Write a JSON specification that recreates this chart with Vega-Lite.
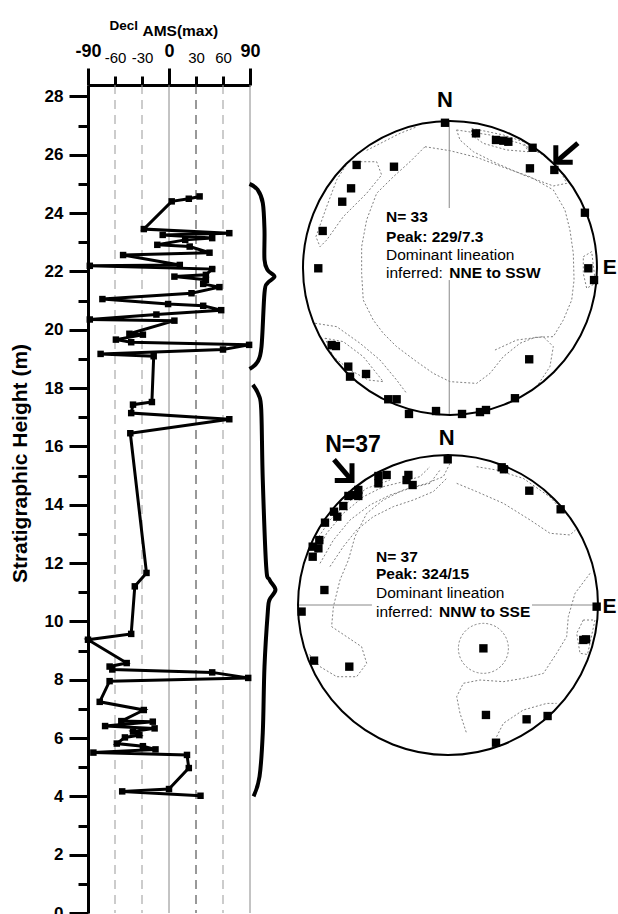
{
"$schema": "https://vega.github.io/schema/vega-lite/v6.json",
"width": 162, "height": 828,
"autosize": {"type": "none"},
"padding": {"left": 88, "top": 85, "right": 368, "bottom": 1},
"config": {"font": "Liberation Sans", "view": {"stroke": null}, "axis": {"labelColor": "black", "tickColor": "black", "domainColor": "black", "titleColor": "black", "grid": false}},
"datasets": {
"prof": [
{"h":24.57,"d":34},{"h":24.49,"d":22},{"h":24.40,"d":3},{"h":23.45,"d":-28},{"h":23.31,"d":67},{"h":23.25,"d":-7},{"h":23.14,"d":48},{"h":23.08,"d":18},{"h":22.91,"d":-13},{"h":22.85,"d":23},{"h":22.64,"d":45},{"h":22.56,"d":-51},{"h":22.22,"d":12},{"h":22.19,"d":-88},{"h":22.08,"d":48},{"h":21.88,"d":41},{"h":21.82,"d":6},{"h":21.71,"d":41},{"h":21.57,"d":38},{"h":21.46,"d":56},{"h":21.25,"d":25},{"h":21.05,"d":-74},{"h":20.88,"d":-1},{"h":20.82,"d":38},{"h":20.67,"d":58},{"h":20.52,"d":-14},{"h":20.35,"d":-88},{"h":20.31,"d":6},{"h":19.86,"d":-44},{"h":19.83,"d":-29},{"h":19.66,"d":-59},{"h":19.57,"d":-42},{"h":19.48,"d":89},{"h":19.32,"d":60},{"h":19.17,"d":-76},{"h":19.09,"d":-17},
{"h":17.52,"d":-19},{"h":17.43,"d":-40},{"h":17.14,"d":-42},{"h":16.93,"d":67},{"h":16.45,"d":-43},{"h":11.66,"d":-25},{"h":11.2,"d":-38},{"h":9.57,"d":-42},{"h":9.37,"d":-90},{"h":8.57,"d":-47},{"h":8.45,"d":-66},{"h":8.35,"d":-63},{"h":8.25,"d":48},{"h":8.06,"d":88},{"h":7.95,"d":-66},{"h":7.24,"d":-77},{"h":6.96,"d":-28},{"h":6.58,"d":-53},{"h":6.56,"d":-18},{"h":6.41,"d":-71},{"h":6.33,"d":-16},{"h":6.22,"d":-40},{"h":6.10,"d":-33},{"h":6.02,"d":-49},{"h":5.81,"d":-58},{"h":5.72,"d":-29},{"h":5.61,"d":-15},{"h":5.50,"d":-84},{"h":5.42,"d":20},{"h":4.97,"d":22},{"h":4.25,"d":0},{"h":4.17,"d":-52},{"h":4.02,"d":35}
],
"braces": [
{"b":1,"d":89.5,"h":25.0},{"b":1,"d":98.4,"h":24.8},{"b":1,"d":104.2,"h":24.35},{"b":1,"d":106.1,"h":23.42},{"b":1,"d":106.1,"h":22.4},{"b":1,"d":109.5,"h":22.05},{"b":1,"d":117.2,"h":21.82},{"b":1,"d":109.5,"h":21.6},{"b":1,"d":106.1,"h":21.26},{"b":1,"d":102.8,"h":19.42},{"b":1,"d":98.4,"h":18.9},{"b":1,"d":89.5,"h":18.65},
{"b":2,"d":93.2,"h":18.11},{"b":2,"d":99.5,"h":17.77},{"b":2,"d":102.5,"h":17.25},{"b":2,"d":104.2,"h":14.85},{"b":2,"d":108,"h":11.88},{"b":2,"d":111.7,"h":11.43},{"b":2,"d":118.3,"h":11.08},{"b":2,"d":111.7,"h":10.74},{"b":2,"d":109.8,"h":10.33},{"b":2,"d":106.1,"h":8.45},{"b":2,"d":104.2,"h":6.18},{"b":2,"d":100.6,"h":4.68},{"b":2,"d":94,"h":4.0}
],
"n1pts": [
{"u":-0.034,"v":0.988},{"u":0.177,"v":0.916},{"u":0.313,"v":0.871},{"u":0.363,"v":0.866},{"u":0.397,"v":0.859},{"u":0.562,"v":0.818},{"u":0.544,"v":0.678},{"u":0.710,"v":0.667},{"u":0.918,"v":0.376},{"u":0.941,"v":-0.002},{"u":0.980,"v":-0.082},{"u":-0.635,"v":0.701},{"u":-0.381,"v":0.689},{"u":-0.673,"v":0.542},{"u":-0.733,"v":0.451},{"u":-0.866,"v":0.252},{"u":-0.896,"v":-0.002},{"u":-0.805,"v":-0.524},{"u":-0.776,"v":-0.531},{"u":-0.692,"v":-0.671},{"u":-0.680,"v":-0.739},{"u":-0.571,"v":-0.721},{"u":-0.420,"v":-0.893},{"u":-0.363,"v":-0.893},{"u":0.539,"v":-0.621},{"u":0.442,"v":-0.886},{"u":-0.279,"v":-0.993},{"u":-0.095,"v":-0.973},{"u":0.082,"v":-0.993},{"u":0.204,"v":-0.980},{"u":0.245,"v":-0.966}
],
"n1cont": [
{"id":"c1","u":-0.170,"v":0.825},{"id":"c1","u":0,"v":0.798},{"id":"c1","u":0.181,"v":0.753},{"id":"c1","u":0.363,"v":0.685},{"id":"c1","u":0.544,"v":0.621},{"id":"c1","u":0.703,"v":0.531},{"id":"c1","u":0.782,"v":0.395},{"id":"c1","u":0.816,"v":0.259},{"id":"c1","u":0.839,"v":0.100},{"id":"c1","u":0.844,"v":-0.082},{"id":"c1","u":0.828,"v":-0.218},{"id":"c1","u":0.771,"v":-0.354},{"id":"c1","u":0.703,"v":-0.467},{"id":"c1","u":0.578,"v":-0.472},{"id":"c1","u":0.476,"v":-0.512},{"id":"c1","u":0.363,"v":-0.603},{"id":"c1","u":0.272,"v":-0.717},{"id":"c1","u":0.181,"v":-0.785},{"id":"c1","u":0,"v":-0.773},{"id":"c1","u":-0.113,"v":-0.717},{"id":"c1","u":-0.227,"v":-0.637},{"id":"c1","u":-0.363,"v":-0.535},{"id":"c1","u":-0.454,"v":-0.444},{"id":"c1","u":-0.522,"v":-0.354},{"id":"c1","u":-0.590,"v":-0.218},{"id":"c1","u":-0.601,"v":-0.036},{"id":"c1","u":-0.601,"v":0.145},{"id":"c1","u":-0.567,"v":0.327},{"id":"c1","u":-0.499,"v":0.508},{"id":"c1","u":-0.385,"v":0.621},{"id":"c1","u":-0.272,"v":0.723},{"id":"c1","u":-0.170,"v":0.825},
{"id":"c2","u":0.045,"v":0.939},{"id":"c2","u":0.272,"v":0.905},{"id":"c2","u":0.476,"v":0.848},{"id":"c2","u":0.635,"v":0.769},{"id":"c2","u":0.748,"v":0.667},{"id":"c2","u":0.794,"v":0.576},{"id":"c2","u":0.703,"v":0.558},{"id":"c2","u":0.499,"v":0.633},{"id":"c2","u":0.317,"v":0.712},{"id":"c2","u":0.159,"v":0.791},{"id":"c2","u":0.068,"v":0.871},{"id":"c2","u":0.045,"v":0.939},
{"id":"c3","u":0.147,"v":0.950},{"id":"c3","u":0.363,"v":0.905},{"id":"c3","u":0.499,"v":0.859},{"id":"c3","u":0.533,"v":0.791},{"id":"c3","u":0.385,"v":0.803},{"id":"c3","u":0.227,"v":0.848},{"id":"c3","u":0.147,"v":0.905},{"id":"c3","u":0.147,"v":0.950},
{"id":"c4","u":-0.692,"v":0.723},{"id":"c4","u":-0.499,"v":0.723},{"id":"c4","u":-0.465,"v":0.633},{"id":"c4","u":-0.567,"v":0.508},{"id":"c4","u":-0.726,"v":0.349},{"id":"c4","u":-0.839,"v":0.190},{"id":"c4","u":-0.884,"v":0.145},{"id":"c4","u":-0.912,"v":0.213},{"id":"c4","u":-0.839,"v":0.417},{"id":"c4","u":-0.771,"v":0.599},{"id":"c4","u":-0.692,"v":0.723},
{"id":"c5","u":-0.918,"v":-0.376},{"id":"c5","u":-0.771,"v":-0.399},{"id":"c5","u":-0.612,"v":-0.512},{"id":"c5","u":-0.476,"v":-0.626},{"id":"c5","u":-0.363,"v":-0.762},{"id":"c5","u":-0.295,"v":-0.853},
{"id":"c6","u":-0.850,"v":-0.478},{"id":"c6","u":-0.726,"v":-0.501},{"id":"c6","u":-0.590,"v":-0.603},{"id":"c6","u":-0.499,"v":-0.717},{"id":"c6","u":-0.454,"v":-0.773},{"id":"c6","u":-0.556,"v":-0.762},{"id":"c6","u":-0.680,"v":-0.694},{"id":"c6","u":-0.794,"v":-0.603},{"id":"c6","u":-0.850,"v":-0.478},
{"id":"c7","u":0.306,"v":-0.558},{"id":"c7","u":0.454,"v":-0.490},{"id":"c7","u":0.635,"v":-0.467},{"id":"c7","u":0.703,"v":-0.535},{"id":"c7","u":0.680,"v":-0.671},{"id":"c7","u":0.590,"v":-0.807},{"id":"c7","u":0.499,"v":-0.866},
{"id":"c8","u":0.907,"v":0.077},{"id":"c8","u":0.964,"v":0.111},{"id":"c8","u":0.990,"v":-0.104},{"id":"c8","u":0.930,"v":-0.138},{"id":"c8","u":0.907,"v":-0.036},{"id":"c8","u":0.907,"v":0.077},
{"id":"c9","u":-0.567,"v":0.800},{"id":"c9","u":-0.340,"v":0.916},{"id":"c9","u":-0.227,"v":0.960}
],
"n1axis": [
{"id":"a","u":-0.005,"v":1},{"id":"a","u":-0.005,"v":0.408},{"id":"b","u":-0.005,"v":-0.082},{"id":"b","u":-0.005,"v":-1}
],
"n1arrow": [
{"id":"s","u":0.87,"v":0.85},{"id":"s","u":0.72,"v":0.72},{"id":"h","u":0.72,"v":0.835},{"id":"h","u":0.72,"v":0.72},{"id":"h","u":0.835,"v":0.72}
],
"n2pts": [
{"u":-0.002,"v":0.971},{"u":0.358,"v":0.918},{"u":0.373,"v":0.905},{"u":0.542,"v":0.762},{"u":0.751,"v":0.638},{"u":0.991,"v":-0.011},{"u":0.902,"v":-0.233},{"u":0.92,"v":-0.229},{"u":0.236,"v":-0.289},{"u":0.253,"v":-0.733},{"u":0.524,"v":-0.762},{"u":0.664,"v":-0.74},{"u":0.32,"v":-0.918},{"u":-0.658,"v":-0.411},{"u":-0.893,"v":-0.371},{"u":-0.976,"v":-0.044},{"u":-0.824,"v":0.1},{"u":-0.902,"v":0.322},{"u":-0.902,"v":0.389},{"u":-0.864,"v":0.378},{"u":-0.858,"v":0.433},{"u":-0.82,"v":0.549},{"u":-0.738,"v":0.589},{"u":-0.76,"v":0.622},{"u":-0.698,"v":0.66},{"u":-0.664,"v":0.727},{"u":-0.636,"v":0.733},{"u":-0.598,"v":0.767},{"u":-0.598,"v":0.727},{"u":-0.464,"v":0.86},{"u":-0.409,"v":0.867},{"u":-0.464,"v":0.811},{"u":-0.264,"v":0.867},{"u":-0.276,"v":0.833},{"u":-0.236,"v":0.8}
],
"n2cont": [
{"id":"b1","u":0.013,"v":0.944},{"id":"b1","u":-0.031,"v":0.856},{"id":"b1","u":-0.142,"v":0.811},{"id":"b1","u":-0.298,"v":0.767},{"id":"b1","u":-0.431,"v":0.700},{"id":"b1","u":-0.542,"v":0.611},{"id":"b1","u":-0.620,"v":0.456},{"id":"b1","u":-0.664,"v":0.300},{"id":"b1","u":-0.720,"v":0.167},{"id":"b1","u":-0.764,"v":-0.011},{"id":"b1","u":-0.776,"v":-0.144},{"id":"b1","u":-0.676,"v":-0.211},{"id":"b1","u":-0.576,"v":-0.278},{"id":"b1","u":-0.542,"v":-0.389},{"id":"b1","u":-0.609,"v":-0.478},{"id":"b1","u":-0.742,"v":-0.478},{"id":"b1","u":-0.853,"v":-0.411},{"id":"b1","u":-0.931,"v":-0.322},
{"id":"b2","u":0.058,"v":0.811},{"id":"b2","u":0.191,"v":0.756},{"id":"b2","u":0.369,"v":0.678},{"id":"b2","u":0.547,"v":0.567},{"id":"b2","u":0.680,"v":0.478},{"id":"b2","u":0.813,"v":0.467},{"id":"b2","u":0.85,"v":0.50},
{"id":"b3","u":0.191,"v":0.922},{"id":"b3","u":0.324,"v":0.9},{"id":"b3","u":0.502,"v":0.844},{"id":"b3","u":0.68,"v":0.72},{"id":"b3","u":0.77,"v":0.62},
{"id":"b4","u":0.947,"v":0.211},{"id":"b4","u":0.847,"v":0.078},{"id":"b4","u":0.802,"v":-0.078},{"id":"b4","u":0.791,"v":-0.211},{"id":"b4","u":0.724,"v":-0.322},{"id":"b4","u":0.636,"v":-0.456},{"id":"b4","u":0.502,"v":-0.489},{"id":"b4","u":0.369,"v":-0.511},{"id":"b4","u":0.213,"v":-0.5},{"id":"b4","u":0.102,"v":-0.522},{"id":"b4","u":0.058,"v":-0.611},{"id":"b4","u":0.08,"v":-0.722},{"id":"b4","u":0.124,"v":-0.856},
{"id":"b5","u":0.902,"v":-0.1},{"id":"b5","u":0.858,"v":-0.189},{"id":"b5","u":0.88,"v":-0.322},{"id":"b5","u":0.93,"v":-0.33},{"id":"b5","u":0.98,"v":-0.1},{"id":"b5","u":0.902,"v":-0.1},
{"id":"b6","u":0.324,"v":-0.878},{"id":"b6","u":0.369,"v":-0.789},{"id":"b6","u":0.502,"v":-0.7},{"id":"b6","u":0.658,"v":-0.656},{"id":"b6","u":0.724,"v":-0.656},
{"id":"a1","u":-0.898,"v":0.3},{"id":"a1","u":-0.809,"v":0.478},{"id":"a1","u":-0.698,"v":0.611},{"id":"a1","u":-0.564,"v":0.722},{"id":"a1","u":-0.431,"v":0.789},{"id":"a1","u":-0.298,"v":0.822},{"id":"a1","u":-0.187,"v":0.856},{"id":"a1","u":-0.12,"v":0.922},
{"id":"a2","u":-0.853,"v":0.278},{"id":"a2","u":-0.764,"v":0.433},{"id":"a2","u":-0.653,"v":0.567},{"id":"a2","u":-0.52,"v":0.667},{"id":"a2","u":-0.387,"v":0.733},{"id":"a2","u":-0.253,"v":0.778},{"id":"a2","u":-0.12,"v":0.811},{"id":"a2","u":-0.053,"v":0.9},
{"id":"a3","u":-0.787,"v":0.256},{"id":"a3","u":-0.698,"v":0.389},{"id":"a3","u":-0.609,"v":0.5},{"id":"a3","u":-0.498,"v":0.589},{"id":"a3","u":-0.364,"v":0.656},{"id":"a3","u":-0.231,"v":0.7},{"id":"a3","u":-0.098,"v":0.756},{"id":"a3","u":-0.009,"v":0.844},
{"id":"a4","u":-0.876,"v":0.433},{"id":"a4","u":-0.787,"v":0.567},{"id":"a4","u":-0.676,"v":0.678},{"id":"a4","u":-0.542,"v":0.778},{"id":"a4","u":-0.387,"v":0.833}
],
"n2axis": [
{"id":"a","u":-1,"v":0},{"id":"a","u":-0.507,"v":0},{"id":"b","u":0.56,"v":0},{"id":"b","u":1,"v":0}
],
"n2arrow": [
{"id":"s","u":-0.76,"v":0.97},{"id":"s","u":-0.64,"v":0.83},{"id":"h","u":-0.64,"v":0.945},{"id":"h","u":-0.64,"v":0.83},{"id":"h","u":-0.755,"v":0.83}
]
},
"layer": [
{
"layer": [
{"data": {"values": [{"g":-60},{"g":-30},{"g":60}]}, "mark": {"type":"rule","color":"#999999","strokeDash":[9,6],"strokeWidth":1},
 "encoding": {"x": {"field":"g","type":"quantitative","scale":{"domain":[-90,90],"nice":false,"zero":false},"axis":null}}},
{"data": {"values": [{"g":30}]}, "mark": {"type":"rule","color":"#333333","strokeDash":[9,6],"strokeWidth":1},
 "encoding": {"x": {"field":"g","type":"quantitative","scale":{"domain":[-90,90],"nice":false,"zero":false},"axis":null}}},
{"data": {"values": [{"g":0},{"g":90}]}, "mark": {"type":"rule","color":"#888888","strokeWidth":1},
 "encoding": {"x": {"field":"g","type":"quantitative","scale":{"domain":[-90,90],"nice":false,"zero":false},"axis":null}}},
{"data": {"name":"prof"}, "mark": {"type":"line","color":"black","strokeWidth":3},
 "encoding": {
  "x": {"field":"d","type":"quantitative","scale":{"domain":[-90,90],"nice":false,"zero":false},
   "axis":{"orient":"top","values":[-90,0,90],"tickSize":17,"tickWidth":3,"domainWidth":3,"labelFontSize":18,"labelFontWeight":"bold","labelPadding":8,"labelFlush":false,"labelOverlap":false,"labelExpr":"'' + datum.value","grid":false,"title":null}},
  "y": {"field":"h","type":"quantitative","scale":{"domain":[0,28.39],"nice":false,"zero":false},
   "axis":{"orient":"left","values":[0,2,4,6,8,10,12,14,16,18,20,22,24,26,28],"tickSize":19,"tickWidth":3,"domainWidth":3,"labelFontSize":17,"labelFontWeight":"bold","labelPadding":6,"labelFlush":false,"labelOverlap":false,"grid":false,"title":"Stratigraphic Height (m)","titleFontSize":21,"titleFontWeight":"bold","titleX":-68,"titleY":378,"titleAngle":-90,"titleAlign":"center","titleBaseline":"middle"}},
  "order": {"field":"h","type":"quantitative"}}},
{"data": {"name":"prof"}, "mark": {"type":"point","shape":"square","filled":true,"color":"black","size":42,"opacity":1},
 "encoding": {
  "x": {"field":"d","type":"quantitative","scale":{"domain":[-90,90],"nice":false,"zero":false},
   "axis":{"orient":"top","values":[-60,-30,30,60],"tickSize":9,"tickWidth":3,"labelFontSize":15,"labelPadding":11,"labelFlush":false,"labelOverlap":false,"labelExpr":"'' + datum.value","domain":false,"grid":false,"title":null}},
  "y": {"field":"h","type":"quantitative","scale":{"domain":[0,28.39],"nice":false,"zero":false},
   "axis":{"orient":"left","values":[1,3,5,7,9,11,13,15,17,19,21,23,25,27],"tickSize":10,"tickWidth":3,"labels":false,"domain":false,"grid":false,"title":null}}}},
{"data": {"name":"braces"}, "mark": {"type":"line","color":"black","strokeWidth":4,"interpolate":"cardinal"},
 "encoding": {
  "x": {"field":"d","type":"quantitative","scale":{"domain":[-90,90],"nice":false,"zero":false},"axis":null},
  "y": {"field":"h","type":"quantitative","scale":{"domain":[0,28.39],"nice":false,"zero":false},"axis":null},
  "detail": {"field":"b"}, "order": {"value": null}}},
{"data": {"values": [{"d":-66,"h":30.4,"t":"Decl"}]}, "mark": {"type":"text","align":"left","fontSize":13.5,"fontWeight":"bold","color":"black"},
 "encoding": {
  "x": {"field":"d","type":"quantitative","scale":{"domain":[-90,90],"nice":false,"zero":false},"axis":null},
  "y": {"field":"h","type":"quantitative","scale":{"domain":[0,28.39],"nice":false,"zero":false},"axis":null},
  "text": {"field":"t"}}},
{"data": {"values": [{"d":-29.5,"h":30.25,"t":"AMS(max)"}]}, "mark": {"type":"text","align":"left","fontSize":15.5,"fontWeight":"bold","color":"black"},
 "encoding": {
  "x": {"field":"d","type":"quantitative","scale":{"domain":[-90,90],"nice":false,"zero":false},"axis":null},
  "y": {"field":"h","type":"quantitative","scale":{"domain":[0,28.39],"nice":false,"zero":false},"axis":null},
  "text": {"field":"t"}}}
],
"resolve": {"axis": {"x":"independent","y":"independent"}}
},
{
"encoding": {
 "x": {"field":"u","type":"quantitative","scale":{"domain":[-2.4626,-1.3605],"nice":false,"zero":false},"axis":null},
 "y": {"field":"v","type":"quantitative","scale":{"domain":[-4.3878,1.2449],"nice":false,"zero":false},"axis":null}},
"layer": [
{"data": {"name":"n1cont"}, "mark": {"type":"line","color":"#707070","strokeWidth":0.9,"strokeDash":[2,2]}, "encoding": {"detail":{"field":"id"},"order":{"value":null}}},
{"data": {"name":"n1axis"}, "mark": {"type":"line","color":"#888888","strokeWidth":1}, "encoding": {"detail":{"field":"id"},"order":{"value":null}}},
{"data": {"values": [{"u":0,"v":0}]}, "mark": {"type":"point","shape":"circle","size":86436,"filled":false,"color":"black","strokeWidth":2,"opacity":1}},
{"data": {"name":"n1pts"}, "mark": {"type":"point","shape":"square","filled":true,"color":"black","size":70,"opacity":1}},
{"data": {"name":"n1arrow"}, "mark": {"type":"line","color":"black","strokeWidth":5}, "encoding": {"detail":{"field":"id"},"order":{"value":null}}},
{"data": {"values": [{"u":-0.435,"v":0.345,"t":"N= 33"},{"u":-0.435,"v":0.213,"t":"Peak: 229/7.3"},{"u":-0.005,"v":-0.036,"t":"NNE to SSW"}]}, "mark": {"type":"text","align":"left","fontSize":15.5,"fontWeight":"bold","color":"black"}, "encoding": {"text":{"field":"t"}}},
{"data": {"values": [{"u":-0.435,"v":0.088,"t":"Dominant lineation"},{"u":-0.435,"v":-0.036,"t":"inferred:"}]}, "mark": {"type":"text","align":"left","fontSize":15.5,"color":"black"}, "encoding": {"text":{"field":"t"}}},
{"data": {"values": [{"u":-0.034,"v":1.143,"t":"N"}]}, "mark": {"type":"text","align":"center","fontSize":22,"fontWeight":"bold","color":"black"}, "encoding": {"text":{"field":"t"}}},
{"data": {"values": [{"u":1.04,"v":0,"t":"E"}]}, "mark": {"type":"text","align":"left","fontSize":21,"fontWeight":"bold","color":"black"}, "encoding": {"text":{"field":"t"}}}
]
},
{
"encoding": {
 "x": {"field":"u","type":"quantitative","scale":{"domain":[-2.4,-1.32],"nice":false,"zero":false},"axis":null},
 "y": {"field":"v","type":"quantitative","scale":{"domain":[-2.0533,3.4667],"nice":false,"zero":false},"axis":null}},
"layer": [
{"data": {"name":"n2cont"}, "mark": {"type":"line","color":"#707070","strokeWidth":0.9,"strokeDash":[2,2]}, "encoding": {"detail":{"field":"id"},"order":{"value":null}}},
{"data": {"values": [{"u":0.236,"v":-0.289}]}, "mark": {"type":"point","shape":"circle","size":2500,"filled":false,"color":"#707070","strokeWidth":0.9,"strokeDash":[2,2],"opacity":1}},
{"data": {"name":"n2axis"}, "mark": {"type":"line","color":"#888888","strokeWidth":1}, "encoding": {"detail":{"field":"id"},"order":{"value":null}}},
{"data": {"values": [{"u":0,"v":0}]}, "mark": {"type":"point","shape":"circle","size":90000,"filled":false,"color":"black","strokeWidth":2,"opacity":1}},
{"data": {"name":"n2pts"}, "mark": {"type":"point","shape":"square","filled":true,"color":"black","size":70,"opacity":1}},
{"data": {"name":"n2arrow"}, "mark": {"type":"line","color":"black","strokeWidth":5}, "encoding": {"detail":{"field":"id"},"order":{"value":null}}},
{"data": {"values": [{"u":-0.48,"v":0.322,"t":"N= 37"},{"u":-0.48,"v":0.205,"t":"Peak: 324/15"},{"u":-0.06,"v":-0.045,"t":"NNW to SSE"}]}, "mark": {"type":"text","align":"left","fontSize":15.5,"fontWeight":"bold","color":"black"}, "encoding": {"text":{"field":"t"}}},
{"data": {"values": [{"u":-0.48,"v":0.082,"t":"Dominant lineation"},{"u":-0.48,"v":-0.045,"t":"inferred:"}]}, "mark": {"type":"text","align":"left","fontSize":15.5,"color":"black"}, "encoding": {"text":{"field":"t"}}},
{"data": {"values": [{"u":-0.009,"v":1.111,"t":"N"}]}, "mark": {"type":"text","align":"center","fontSize":22,"fontWeight":"bold","color":"black"}, "encoding": {"text":{"field":"t"}}},
{"data": {"values": [{"u":1.03,"v":-0.013,"t":"E"}]}, "mark": {"type":"text","align":"left","fontSize":21,"fontWeight":"bold","color":"black"}, "encoding": {"text":{"field":"t"}}},
{"data": {"values": [{"u":-0.633,"v":1.067,"t":"N=37"}]}, "mark": {"type":"text","align":"center","fontSize":23,"fontWeight":"bold","color":"black"}, "encoding": {"text":{"field":"t"}}}
]
}
],
"resolve": {"scale": {"x":"independent","y":"independent"}}
}
